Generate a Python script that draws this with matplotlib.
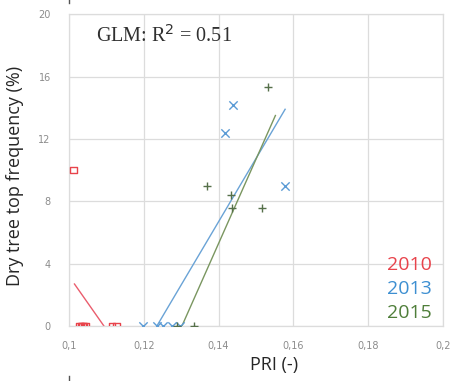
import numpy as np
import matplotlib
matplotlib.use("Agg")
import matplotlib.pyplot as plt
from matplotlib.lines import Line2D

# ===== data =====
pri_2010 = [0.1013, 0.1028, 0.1032, 0.1036, 0.1040, 0.1044, 0.1115, 0.1128]
dry_2010 = [10.0, 0, 0, 0, 0, 0, 0, 0]
fit_x_2010 = [0.1015, 0.1094]
fit_y_2010 = [2.7, 0.0]

pri_2013 = [0.1198, 0.1235, 0.1251, 0.1275, 0.1297, 0.1417, 0.1439, 0.1578]
dry_2013 = [0, 0, 0, 0, 0, 12.4, 14.2, 9.0]
fit_x_2013 = [0.1235, 0.1578]
fit_y_2013 = [0.0, 13.9]

pri_2015 = [0.1290, 0.1334, 0.1369, 0.1433, 0.1436, 0.1516, 0.1532]
dry_2015 = [0, 0, 9.0, 8.4, 7.6, 7.6, 15.3]
fit_x_2015 = [0.1302, 0.1552]
fit_y_2015 = [0.0, 13.5]

years = ['2010', '2013', '2015']
year_colors = ['#e8434b', '#3d8fd1', '#4f7e3a']

xticks = [0.10, 0.12, 0.14, 0.16, 0.18, 0.20]
xtick_labels = ['0,1', '0,12', '0,14', '0,16', '0,18', '0,2']
yticks = [0, 4, 8, 12, 16, 20]

# ===== figure =====
fig = plt.figure(figsize=(4.53, 3.81), dpi=100)
ax = fig.add_axes([0.152, 0.144, 0.826, 0.819])

ax.plot(fit_x_2010, fit_y_2010, color='#ea5d6d', lw=1.0, zorder=2)
ax.plot(fit_x_2013, fit_y_2013, color='#6aa3d6', lw=1.0, zorder=2)
ax.plot(fit_x_2015, fit_y_2015, color='#7a9660', lw=1.0, zorder=2)

ax.scatter(pri_2010, dry_2010, marker='s', s=22, facecolors='none',
           edgecolors='#e8434b', linewidths=1.0, zorder=3)
ax.scatter(pri_2013, dry_2013, marker='x', s=36, color='#5b9bd5',
           linewidths=1.0, zorder=3)
ax.scatter(pri_2015, dry_2015, marker='+', s=34, color='#56704a',
           linewidths=1.0, zorder=3)

ax.set_xlim(0.1, 0.2)
ax.set_ylim(0, 20)
ax.set_xticks(xticks)
ax.set_xticklabels(xtick_labels)
ax.set_yticks(yticks)
ax.tick_params(axis='both', length=0, labelsize=7, labelcolor='#8c8c8c')
ax.tick_params(axis='x', pad=11)
ax.tick_params(axis='y', pad=13)
ax.grid(True, color='#dcdcdc', lw=0.9)
ax.set_axisbelow(True)
for sp in ax.spines.values():
    sp.set_color('#dcdcdc')
    sp.set_linewidth(0.9)

ax.set_xlabel('PRI (-)', fontsize=13, family='Open Sans', color='#262626')
ax.xaxis.set_label_coords(0.548, -0.095)
ax.set_ylabel('Dry tree top frequency (%)', fontsize=13, family='Open Sans',
              color='#262626')
ax.yaxis.set_label_coords(-0.12, 0.48)

ax.text(0.072, 0.93, 'GLM: R$^2$ = 0.51', transform=ax.transAxes,
        fontsize=14.5, family='Liberation Serif', color='#303030', va='center')

for i, (yr, c) in enumerate(zip(years, year_colors)):
    ax.text(0.97, 0.195 - i * 0.077, yr, transform=ax.transAxes, ha='right',
            va='center', fontsize=14, family='Open Sans', color=c)

# small marks outside the plot (crop edges)
fig.add_artist(Line2D([0.152, 0.152], [0.992, 1.0], color='#555555', lw=1))
fig.add_artist(Line2D([0.152, 0.152], [0.0, 0.012], color='#555555', lw=1))

fig.savefig('out.png', dpi=100)
